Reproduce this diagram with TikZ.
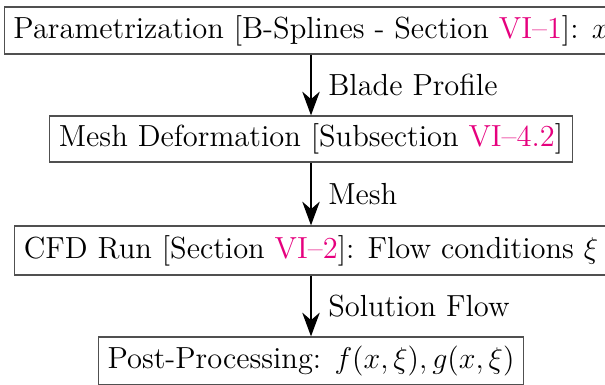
\documentclass[tikz,border=0pt]{standalone}
\usetikzlibrary{arrows.meta}
\definecolor{refpink}{HTML}{E6007E}
\definecolor{boxline}{HTML}{505050}
\newcommand{\secref}[1]{\textcolor{refpink}{#1}}
\begin{document}
\begin{tikzpicture}[x=0.4pt,y=-0.4pt,
  stagebox/.style={draw=boxline,line width=0.5pt,fill=white,inner xsep=3.6pt,inner ysep=0pt,
    font=\fontsize{12.2}{14}\selectfont,anchor=center},
  flowarrow/.style={draw=black,line width=0.65pt,-{Stealth[length=9.5pt,width=7pt,inset=3pt]}},
  flowlabel/.style={right,inner sep=0pt,xshift=6.6pt,font=\fontsize{12.2}{14}\selectfont}]
\useasboundingbox (0,0) rectangle (605,385);
\clip (0,0) rectangle (605,385);
\node[stagebox,minimum height=18.8pt] (b1) at (311,30.5) {Parametrization [B-Splines - Section \secref{VI--1}]: $x$};
\node[stagebox,minimum height=18.4pt] (b2) at (311,139) {Mesh Deformation [Subsection \secref{VI--4.2}]};
\node[stagebox,minimum height=19.6pt] (b3) at (311,250.5) {CFD Run [Section \secref{VI--2}]: Flow conditions $\xi$};
\node[stagebox,minimum height=19.2pt] (b4) at (311,361) {Post-Processing: $f(x,\xi), g(x,\xi)$};
\draw[flowarrow] (b1) -- node[flowlabel] {Blade Profile} (b2);
\draw[flowarrow] (b2) -- node[flowlabel] {Mesh} (b3);
\draw[flowarrow] (b3) -- node[flowlabel] {Solution Flow} (b4);
\end{tikzpicture}
\end{document}
